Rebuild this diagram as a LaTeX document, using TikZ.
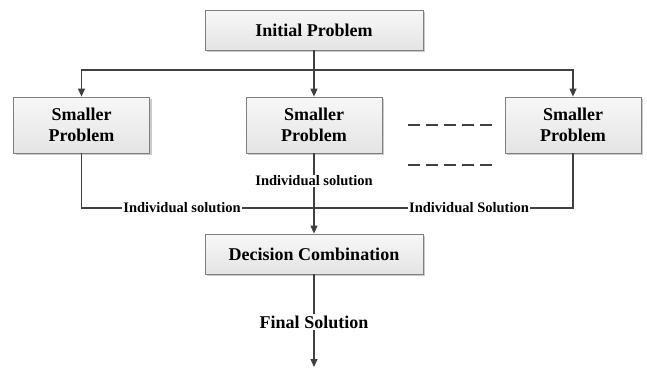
\documentclass[tikz,border=0pt]{standalone}
\usepackage{fontspec}
\setmainfont{Liberation Serif}
\usetikzlibrary{arrows.meta,shadows}
\definecolor{linec}{HTML}{404040}
\definecolor{boxedge}{HTML}{7F7F7F}
\definecolor{boxlow}{HTML}{E4E4E4}
\tikzset{
  x=1pt, y=-1pt,
  procbox/.style={draw=boxedge, line width=0.8pt, top color=white!97!black, bottom color=boxlow,
    drop shadow={shadow xshift=2pt, shadow yshift=-2pt, fill=black!35, opacity=0.6},
    font=\bfseries\fontsize{18}{21}\selectfont, align=center, inner sep=0pt},
  flow/.style={draw=linec, line width=1.1pt, -{Triangle[length=8pt,width=7pt]}},
  wire/.style={draw=linec, line width=1.1pt},
  tag/.style={fill=white, inner sep=1pt, font=\bfseries\fontsize{14.5}{17}\selectfont},
  gap/.style={draw=linec, line width=1.1pt, dash pattern=on 12pt off 6pt}
}
\begin{document}
\begin{tikzpicture}
\useasboundingbox (0,0) rectangle (647,367);
% boxes
\node[procbox, minimum width=218pt, minimum height=40pt] (init) at (314,30) {Initial Problem};
\node[procbox, minimum width=136pt, minimum height=56pt] (sp1) at (81.5,125) {Smaller\\Problem};
\node[procbox, minimum width=136pt, minimum height=56pt] (sp2) at (314,125) {Smaller\\Problem};
\node[procbox, minimum width=136pt, minimum height=56pt] (sp3) at (573,125) {Smaller\\Problem};
\node[procbox, minimum width=218pt, minimum height=40pt] (comb) at (314,254) {Decision Combination};
% branching to the sub-problems
\coordinate (fork) at (314,70);
\draw[wire] (init.south) -- (fork);
\draw[flow] (fork) -| (sp1.north);
\draw[flow] (fork) -- (sp2.north);
\draw[flow] (fork) -| (sp3.north);
% ellipsis between the sub-problems
\coordinate (d1a) at (408,125);
\coordinate (d1b) at (492,125);
\coordinate (d2a) at (408,165);
\coordinate (d2b) at (492,165);
\draw[gap] (d1a) -- (d1b);
\draw[gap] (d2a) -- (d2b);
% collecting the individual solutions
\coordinate (join) at (314,208);
\draw[wire] (sp1.south) |- (join);
\draw[wire] (sp3.south) |- (join);
\draw[flow] (sp2.south) -- (comb.north);
\node[tag] (lab2) at (314,181) {Individual solution};
\node[tag] (lab1) at (182,208) {Individual solution};
\node[tag] (lab3) at (469,208) {Individual Solution};
% final output
\coordinate (out) at (314,367);
\draw[flow] (comb.south) -- (out);
\node[tag, font=\bfseries\fontsize{18}{21}\selectfont, inner sep=2pt] (fin) at (314,322) {Final Solution};
\end{tikzpicture}
\end{document}
